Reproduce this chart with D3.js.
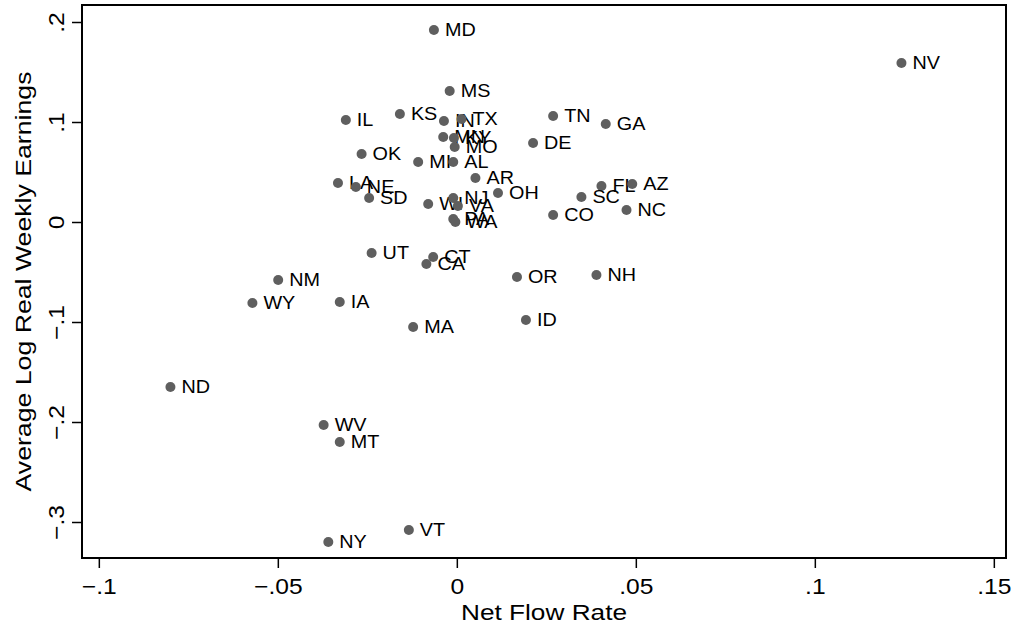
<!DOCTYPE html>
<html>
<head>
<meta charset="utf-8">
<script src="https://cdn.jsdelivr.net/npm/d3@7"></script>
<style>
  body { margin: 0; background: #fff; }
  svg text { font-family: "Liberation Sans", Arial, Helvetica, sans-serif; }
</style>
</head>
<body>
<div id="chart"></div>
<script>
// state labels, net flow rate, average log real weekly earnings
var states = ["MD","MS","IL","KS","IN","TX","MN","KY","MO","OK","MI","AL","AR","OH","LA","NE","SD","WI","NJ","VA","PA","WA",
  "TN","GA","DE","FL","AZ","SC","NC","CO","NV","UT","CT","CA","NM","WY","IA","MA","OR","ID","NH","ND","WV","MT","NY","VT"];
var flowRate = [-0.0064,-0.0020,-0.0310,-0.0159,-0.0036,0.0013,-0.0038,-0.0008,-0.0006,-0.0266,-0.0108,-0.0010,0.0052,0.0115,-0.0332,-0.0282,-0.0245,-0.0080,-0.0010,0.0003,-0.0010,-0.0004,
  0.0269,0.0416,0.0213,0.0404,0.0490,0.0348,0.0474,0.0269,0.1242,-0.0238,-0.0066,-0.0085,-0.0499,-0.0571,-0.0327,-0.0122,0.0168,0.0193,0.0390,-0.0800,-0.0372,-0.0327,-0.0359,-0.0134];
var earnings = [0.192,0.131,0.102,0.108,0.101,0.103,0.085,0.084,0.075,0.068,0.060,0.060,0.044,0.029,0.039,0.035,0.024,0.018,0.024,0.016,0.003,0.0,
  0.106,0.098,0.079,0.036,0.038,0.025,0.012,0.007,0.159,-0.031,-0.035,-0.042,-0.058,-0.081,-0.080,-0.105,-0.055,-0.098,-0.053,-0.165,-0.203,-0.220,-0.320,-0.308];
var xTicks = [-0.1,-0.05,0,0.05,0.1,0.15];
var yTicks = [-0.3,-0.2,-0.1,0,0.1,0.2];

var width = 1012, height = 625;
var plot = {left: 82, right: 1006, top: 5, bottom: 558};

var svg = d3.select("#chart").append("svg")
  .attr("width", width)
  .attr("height", height);

var x = d3.scaleLinear().domain([-0.1047, 0.1534]).range([plot.left, plot.right]);
var y = d3.scaleLinear().domain([-0.336, 0.217]).range([plot.bottom, plot.top]);

function fmt(v){
  if (v === 0) return "0";
  var s = String(Math.abs(v)).replace(/^0/, "");
  return (v < 0 ? "\u2212" : "") + s;
}

// frame
svg.append("rect")
  .attr("x", plot.left).attr("y", plot.top)
  .attr("width", plot.right - plot.left)
  .attr("height", plot.bottom - plot.top)
  .attr("fill", "none").attr("stroke", "#000").attr("stroke-width", 2);

// x axis
var xAxis = d3.axisBottom(x).tickValues(xTicks).tickFormat(fmt).tickSize(10).tickPadding(10);
var gx = svg.append("g").attr("transform", "translate(0," + plot.bottom + ")").call(xAxis);
gx.select(".domain").remove();
gx.selectAll("line").attr("stroke", "#000").attr("stroke-width", 1.5);
gx.selectAll("text").attr("font-size", 22).attr("fill", "#000")
  .attr("font-family", "Liberation Sans, Arial, sans-serif")
  .attr("transform", "scale(1.12,1)");

// y axis, labels rotated
var yAxis = d3.axisLeft(y).tickValues(yTicks).tickFormat(fmt).tickSize(10).tickPadding(4);
var gy = svg.append("g").attr("transform", "translate(" + plot.left + ",0)").call(yAxis);
gy.select(".domain").remove();
gy.selectAll("line").attr("stroke", "#000").attr("stroke-width", 1.5);
gy.selectAll("text")
  .attr("font-size", 22).attr("fill", "#000")
  .attr("font-family", "Liberation Sans, Arial, sans-serif")
  .attr("x", null).attr("dy", null)
  .attr("text-anchor", "middle")
  .attr("transform", "translate(-18,0) rotate(-90) scale(1.12,1)");

// axis titles
svg.append("text")
  .attr("x", (plot.left + plot.right) / 2)
  .attr("y", 620)
  .attr("text-anchor", "middle")
  .attr("font-size", 22)
  .attr("textLength", 166)
  .attr("lengthAdjust", "spacingAndGlyphs")
  .text("Net Flow Rate");

svg.append("text")
  .attr("transform", "translate(31," + ((plot.top + plot.bottom) / 2) + ") rotate(-90)")
  .attr("text-anchor", "middle")
  .attr("font-size", 22)
  .attr("textLength", 420)
  .attr("lengthAdjust", "spacingAndGlyphs")
  .text("Average Log Real Weekly Earnings");

// points and labels
var data = states.map(function(s, i){ return {st: s, fx: flowRate[i], ey: earnings[i]}; });

var pts = svg.append("g").selectAll("g")
  .data(data)
  .enter()
  .append("g");

pts.append("circle")
  .attr("cx", function(d){ return x(d.fx); })
  .attr("cy", function(d){ return y(d.ey); })
  .attr("r", 5)
  .attr("fill", "#5f5f5f");

pts.append("text")
  .attr("transform", function(d){ return "translate(" + (x(d.fx) + 11) + "," + y(d.ey) + ") scale(1.1,1)"; })
  .attr("dy", "0.36em")
  .attr("font-size", 18)
  .attr("fill", "#000")
  .text(function(d){ return d.st; });
</script>
</body>
</html>
